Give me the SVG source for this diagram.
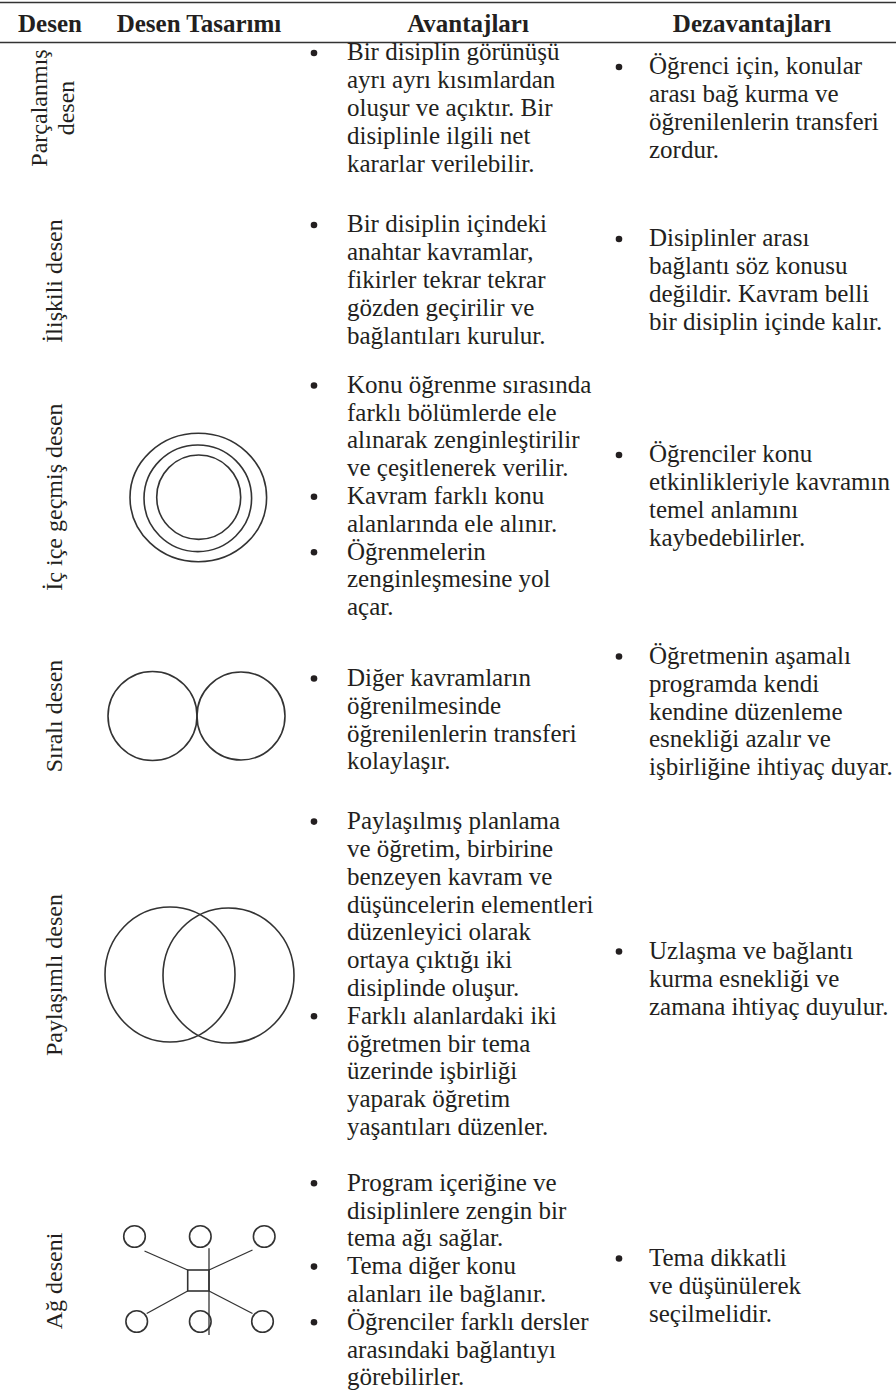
<svg xmlns="http://www.w3.org/2000/svg" width="896" height="1400" viewBox="0 0 896 1400">
<style>
text{font-family:"Liberation Serif","Times New Roman",serif;fill:#231f20}
.h{font-family:"Liberation Serif","Times New Roman",serif;font-size:25px;font-weight:bold}
.t{font-family:"Liberation Serif","Times New Roman",serif;font-size:25px}
.lbl{font-family:"Liberation Serif","Times New Roman",serif;font-size:24px}
.rule{stroke:#333;stroke-width:1.5}
.fig{fill:none;stroke:#333;stroke-width:1.6}
.ln{stroke:#333;stroke-width:1.3}
.dot{fill:#231f20}
</style>
<rect width="896" height="1400" fill="#fff"/>
<g id="header">
<line class="rule" x1="0" y1="2.5" x2="896" y2="2.5"/>
<line class="rule" x1="0" y1="42.5" x2="896" y2="42.5"/>
<text class="h" x="50" y="32" text-anchor="middle">Desen</text>
<text class="h" x="199" y="32" text-anchor="middle">Desen Tasarımı</text>
<text class="h" x="468" y="32" text-anchor="middle">Avantajları</text>
<text class="h" x="752" y="32" text-anchor="middle">Dezavantajları</text>
</g>

<g id="row1">
<text class="lbl" transform="translate(47,108) rotate(-90)" text-anchor="middle">Parçalanmış</text>
<text class="lbl" transform="translate(74,108) rotate(-90)" text-anchor="middle">desen</text>
<circle class="dot" cx="314" cy="53" r="3.3"/>
<text class="t"><tspan x="347" y="60.4">Bir disiplin görünüşü</tspan><tspan x="347" dy="27.8">ayrı ayrı kısımlardan</tspan><tspan x="347" dy="27.8">oluşur ve açıktır. Bir</tspan><tspan x="347" dy="27.8">disiplinle ilgili net</tspan><tspan x="347" dy="27.8">kararlar verilebilir.</tspan></text>
<circle class="dot" cx="619" cy="67" r="3.3"/>
<text class="t"><tspan x="649" y="74.3">Öğrenci için, konular</tspan><tspan x="649" dy="27.8">arası bağ kurma ve</tspan><tspan x="649" dy="27.8">öğrenilenlerin transferi</tspan><tspan x="649" dy="27.8">zordur.</tspan></text>
</g>

<g id="row2">
<text class="lbl" transform="translate(62,281) rotate(-90)" text-anchor="middle">İlişkili desen</text>
<circle class="dot" cx="314" cy="225" r="3.3"/>
<text class="t"><tspan x="347" y="232.4">Bir disiplin içindeki</tspan><tspan x="347" dy="27.8">anahtar kavramlar,</tspan><tspan x="347" dy="27.8">fikirler tekrar tekrar</tspan><tspan x="347" dy="27.8">gözden geçirilir ve</tspan><tspan x="347" dy="27.8">bağlantıları kurulur.</tspan></text>
<circle class="dot" cx="619" cy="239" r="3.3"/>
<text class="t"><tspan x="649" y="246.3">Disiplinler arası</tspan><tspan x="649" dy="27.8">bağlantı söz konusu</tspan><tspan x="649" dy="27.8">değildir. Kavram belli</tspan><tspan x="649" dy="27.8">bir disiplin içinde kalır.</tspan></text>
</g>

<g id="row3">
<text class="lbl" transform="translate(62,497) rotate(-90)" text-anchor="middle">İç içe geçmiş desen</text>
<ellipse class="fig" cx="198.3" cy="497.5" rx="68.3" ry="64.2"/>
<ellipse class="fig" cx="197.8" cy="498.3" rx="53.8" ry="53.3"/>
<ellipse class="fig" cx="198.7" cy="497.2" rx="42" ry="42.2"/>
<circle class="dot" cx="314" cy="385.5" r="3.3"/>
<circle class="dot" cx="314" cy="496.7" r="3.3"/>
<circle class="dot" cx="314" cy="552.3" r="3.3"/>
<text class="t"><tspan x="347" y="392.8">Konu öğrenme sırasında</tspan><tspan x="347" dy="27.8">farklı bölümlerde ele</tspan><tspan x="347" dy="27.8">alınarak zenginleştirilir</tspan><tspan x="347" dy="27.8">ve çeşitlenerek verilir.</tspan><tspan x="347" dy="27.8">Kavram farklı konu</tspan><tspan x="347" dy="27.8">alanlarında ele alınır.</tspan><tspan x="347" dy="27.8">Öğrenmelerin</tspan><tspan x="347" dy="27.8">zenginleşmesine yol</tspan><tspan x="347" dy="27.8">açar.</tspan></text>
<circle class="dot" cx="619" cy="455" r="3.3"/>
<text class="t"><tspan x="649" y="462.3">Öğrenciler konu</tspan><tspan x="649" dy="27.8">etkinlikleriyle kavramın</tspan><tspan x="649" dy="27.8">temel anlamını</tspan><tspan x="649" dy="27.8">kaybedebilirler.</tspan></text>
</g>

<g id="row4">
<text class="lbl" transform="translate(62,716) rotate(-90)" text-anchor="middle">Sıralı desen</text>
<circle class="fig" cx="152.5" cy="716" r="44.5"/>
<circle class="fig" cx="241" cy="716" r="44"/>
<circle class="dot" cx="314" cy="678.5" r="3.3"/>
<text class="t"><tspan x="347" y="686">Diğer kavramların</tspan><tspan x="347" dy="27.8">öğrenilmesinde</tspan><tspan x="347" dy="27.8">öğrenilenlerin transferi</tspan><tspan x="347" dy="27.8">kolaylaşır.</tspan></text>
<circle class="dot" cx="619" cy="656.5" r="3.3"/>
<text class="t"><tspan x="649" y="664">Öğretmenin aşamalı</tspan><tspan x="649" dy="27.8">programda kendi</tspan><tspan x="649" dy="27.8">kendine düzenleme</tspan><tspan x="649" dy="27.8">esnekliği azalır ve</tspan><tspan x="649" dy="27.8">işbirliğine ihtiyaç duyar.</tspan></text>
</g>

<g id="row5">
<text class="lbl" transform="translate(62,975) rotate(-90)" text-anchor="middle">Paylaşımlı desen</text>
<ellipse class="fig" cx="170" cy="974.5" rx="65" ry="67.5"/>
<ellipse class="fig" cx="228.5" cy="975.5" rx="65.5" ry="67.5"/>
<circle class="dot" cx="314" cy="821.6" r="3.3"/>
<circle class="dot" cx="314" cy="1016.2" r="3.3"/>
<text class="t"><tspan x="347" y="829.1">Paylaşılmış planlama</tspan><tspan x="347" dy="27.8">ve öğretim, birbirine</tspan><tspan x="347" dy="27.8">benzeyen kavram ve</tspan><tspan x="347" dy="27.8">düşüncelerin elementleri</tspan><tspan x="347" dy="27.8">düzenleyici olarak</tspan><tspan x="347" dy="27.8">ortaya çıktığı iki</tspan><tspan x="347" dy="27.8">disiplinde oluşur.</tspan><tspan x="347" dy="27.8">Farklı alanlardaki iki</tspan><tspan x="347" dy="27.8">öğretmen bir tema</tspan><tspan x="347" dy="27.8">üzerinde işbirliği</tspan><tspan x="347" dy="27.8">yaparak öğretim</tspan><tspan x="347" dy="27.8">yaşantıları düzenler.</tspan></text>
<circle class="dot" cx="619" cy="951.5" r="3.3"/>
<text class="t"><tspan x="649" y="959">Uzlaşma ve bağlantı</tspan><tspan x="649" dy="27.8">kurma esnekliği ve</tspan><tspan x="649" dy="27.8">zamana ihtiyaç duyulur.</tspan></text>
</g>

<g id="row6">
<text class="lbl" transform="translate(62,1281) rotate(-90)" text-anchor="middle">Ağ deseni</text>
<g id="network">
<circle class="fig" cx="134.5" cy="1236.5" r="10.8"/>
<circle class="fig" cx="200.3" cy="1236.5" r="10.8"/>
<circle class="fig" cx="264.2" cy="1236.5" r="10.8"/>
<circle class="fig" cx="136.7" cy="1321.5" r="10.8"/>
<circle class="fig" cx="200.3" cy="1321.5" r="10.8"/>
<circle class="fig" cx="262.5" cy="1321.5" r="10.8"/>
<rect class="fig" x="187.7" y="1270" width="21.3" height="21"/>
</g>
<circle class="dot" cx="314" cy="1183.2" r="3.3"/>
<circle class="dot" cx="314" cy="1266.6" r="3.3"/>
<circle class="dot" cx="314" cy="1322.2" r="3.3"/>
<text class="t"><tspan x="347" y="1190.7">Program içeriğine ve</tspan><tspan x="347" dy="27.8">disiplinlere zengin bir</tspan><tspan x="347" dy="27.8">tema ağı sağlar.</tspan><tspan x="347" dy="27.8">Tema diğer konu</tspan><tspan x="347" dy="27.8">alanları ile bağlanır.</tspan><tspan x="347" dy="27.8">Öğrenciler farklı dersler</tspan><tspan x="347" dy="27.8">arasındaki bağlantıyı</tspan><tspan x="347" dy="27.8">görebilirler.</tspan></text>
<circle class="dot" cx="619" cy="1258.5" r="3.3"/>
<text class="t"><tspan x="649" y="1266">Tema dikkatli</tspan><tspan x="649" dy="27.8">ve düşünülerek</tspan><tspan x="649" dy="27.8">seçilmelidir.</tspan></text>
</g>

<g id="connectors">
<line class="ln" x1="209" y1="1248.3" x2="209" y2="1335"/>
<line class="ln" x1="144.5" y1="1251" x2="187.7" y2="1270"/>
<line class="ln" x1="209" y1="1270" x2="252.5" y2="1250"/>
<line class="ln" x1="187.7" y1="1291" x2="146.7" y2="1313.5"/>
<line class="ln" x1="209" y1="1291" x2="252.5" y2="1313.5"/>
</g>
</svg>
